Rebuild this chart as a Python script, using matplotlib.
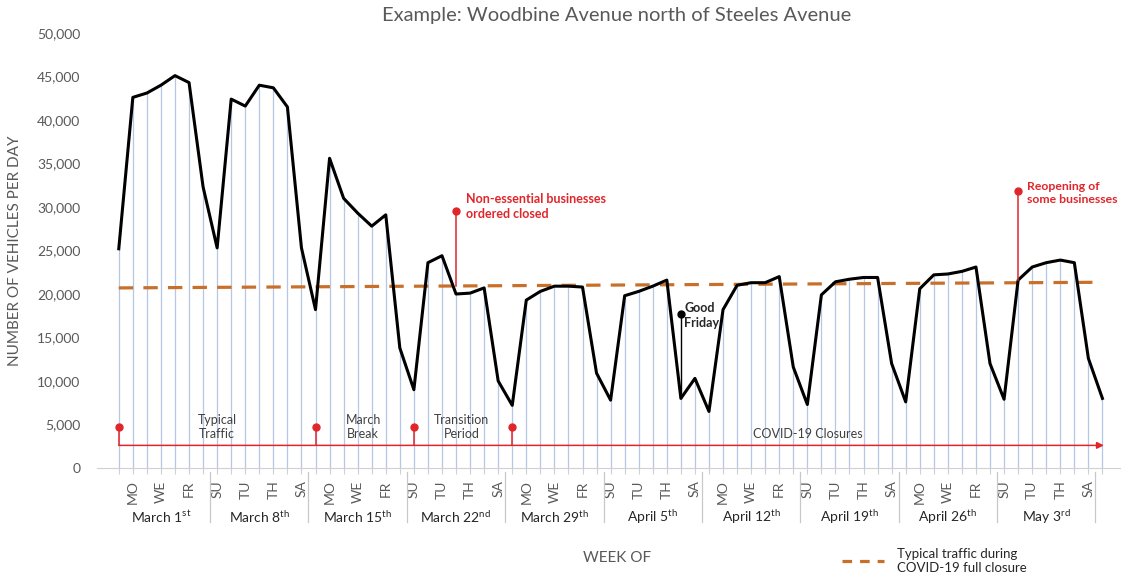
import matplotlib
matplotlib.use("Agg")
import matplotlib.pyplot as plt
from matplotlib.lines import Line2D

plt.rcParams["font.family"] = ["Lato", "DejaVu Sans"]
plt.rcParams["mathtext.fontset"] = "custom"
plt.rcParams["mathtext.rm"] = "Lato"

# --- datos ---
traffic = [25200, 42600, 43100, 44000, 45100, 44300, 32300,
           25300, 42400, 41600, 44000, 43700, 41500, 25300,
           18200, 35600, 31000, 29300, 27800, 29100, 13800,
           9000, 23600, 24400, 20000, 20100, 20700, 10000,
           7200, 19300, 20300, 20900, 20900, 20800, 10900,
           7800, 19800, 20300, 20900, 21600, 8000, 10300,
           6500, 18200, 21000, 21300, 21300, 22000, 11600,
           7300, 19900, 21400, 21700, 21900, 21900, 12000,
           7600, 20600, 22200, 22300, 22600, 23100, 12000,
           7900, 21600, 23100, 23600, 23900, 23600, 12600,
           8000]
days = list(range(len(traffic)))
day_names = ["SU", "MO", "TU", "WE", "TH", "FR", "SA"]
week_names = ["March 1", "March 8", "March 15", "March 22", "March 29",
              "April 5", "April 12", "April 19", "April 26", "May 3"]
week_suffix = ["st", "th", "th", "nd", "th", "th", "th", "th", "th", "rd"]

covid_typical_x = [0, 70]
covid_typical_y = [20700, 21350]

phase_days = [0, 14, 21, 28]
phase_labels = ["Typical\nTraffic", "March\nBreak", "Transition\nPeriod", "COVID-19 Closures"]
phase_label_x = [7, 17.4, 24.4, 49]

GRAY = "#595959"
RED = "#E0262B"
ORANGE = "#C8702A"

fig = plt.figure(figsize=(11.25, 5.75), dpi=100)
ax = fig.add_axes([97 / 1125, 1 - 468 / 575, 1023 / 1125, 435 / 575])

# líneas de caída + serie
ax.vlines(days, 0, traffic, color="#b4c7e7", lw=0.9, zorder=1)
ax.plot(days, traffic, color="black", lw=2.2, zorder=4)
ax.plot(covid_typical_x, covid_typical_y, color=ORANGE, lw=2.3,
        linestyle=(0, (4.5, 3.2)), zorder=3)

# línea de tiempo inferior
base = 2600
ax.annotate("", xy=(70.1, base), xytext=(0, base),
            arrowprops=dict(arrowstyle="-|>", color=RED, lw=1.1,
                            mutation_scale=10, shrinkA=0, shrinkB=0), zorder=3)
for d in phase_days:
    ax.plot([d, d], [base, 4700], color=RED, lw=1.1, zorder=3)
    ax.plot(d, 4700, "o", color=RED, ms=5, zorder=3)
for x, lab in zip(phase_label_x, phase_labels):
    y = 3900 if "\n" not in lab else 4700
    ax.text(x, y, lab, ha="center", va="center", fontsize=9, color="#404040",
            linespacing=1.2, zorder=5)

# anotaciones de eventos
ax.plot([24, 24], [20900, 29500], color=RED, lw=1.1, zorder=5)
ax.plot(24, 29500, "o", color=RED, ms=5, zorder=5)
ax.text(24.7, 30050, "Non-essential businesses\nordered closed", color=RED,
        fontsize=9, fontweight="bold", ha="left", va="center", linespacing=1.3)

ax.plot([64, 64], [21600, 31850], color=RED, lw=1.1, zorder=5)
ax.plot(64, 31850, "o", color=RED, ms=5, zorder=5)
ax.text(64.6, 31600, "Reopening of\nsome businesses", color=RED,
        fontsize=8.8, fontweight="bold", ha="left", va="center", linespacing=1.3,
        clip_on=False)

ax.plot([40, 40], [8000, 17700], color="black", lw=1.0, zorder=5)
ax.plot(40, 17700, "o", color="black", ms=5, zorder=5)
ax.text(40.25, 17500, "Good\nFriday", color="#262626", fontsize=9,
        fontweight="bold", ha="left", va="center", linespacing=1.3, zorder=6)

# ejes
ax.set_xlim(-1.55, 71.25)
ax.set_ylim(0, 50000)
ax.set_yticks(range(0, 50001, 5000))
ax.set_yticklabels([f"{v:,}" for v in range(0, 50001, 5000)])
ax.tick_params(axis="y", length=0, pad=12, labelsize=10, labelcolor=GRAY)
ax.set_xticks(days)
ax.set_xticklabels([day_names[d % 7] if d % 2 == 1 and d < 70 else "" for d in days],
                   rotation=90)
ax.tick_params(axis="x", length=4, color="#d0d0d0", pad=5, labelsize=10,
               labelcolor=GRAY)
for s in ["top", "right", "left"]:
    ax.spines[s].set_visible(False)
ax.spines["bottom"].set_color("#d0d0d0")

xt = ax.get_xaxis_transform()
for k, (name, suf) in enumerate(zip(week_names, week_suffix)):
    ax.text(3 + 7 * k, -0.112, name + "$^{\\rm " + suf + "}$", transform=xt,
            ha="center", va="center", fontsize=10, color="#262626")
    ax.add_line(Line2D([6.5 + 7 * k] * 2, [-0.009, -0.124], transform=xt,
                       color="#c8c8c8", lw=0.9, clip_on=False))

ax.set_ylabel("NUMBER OF VEHICLES PER DAY", fontsize=11, color=GRAY)
ax.yaxis.set_label_coords(-0.073, 0.5)
fig.text(617 / 1125, 1 - 558 / 575, "WEEK OF", ha="center", va="center",
         fontsize=11, color=GRAY)
fig.text(617 / 1125, 1 - 15 / 575, "Example: Woodbine Avenue north of Steeles Avenue",
         ha="center", va="center", fontsize=14.5, color=GRAY)

handle = Line2D([], [], color=ORANGE, lw=2.3, linestyle=(0, (3, 2.5)))
fig.legend(handles=[handle], labels=["Typical traffic during\nCOVID-19 full closure"],
           loc="center left", bbox_to_anchor=(835 / 1125, 1 - 561 / 575),
           frameon=False, fontsize=9.5, handlelength=3.2, handletextpad=1.0,
           labelcolor="#262626", borderpad=0)

fig.savefig("out.png", dpi=100, facecolor="white")
